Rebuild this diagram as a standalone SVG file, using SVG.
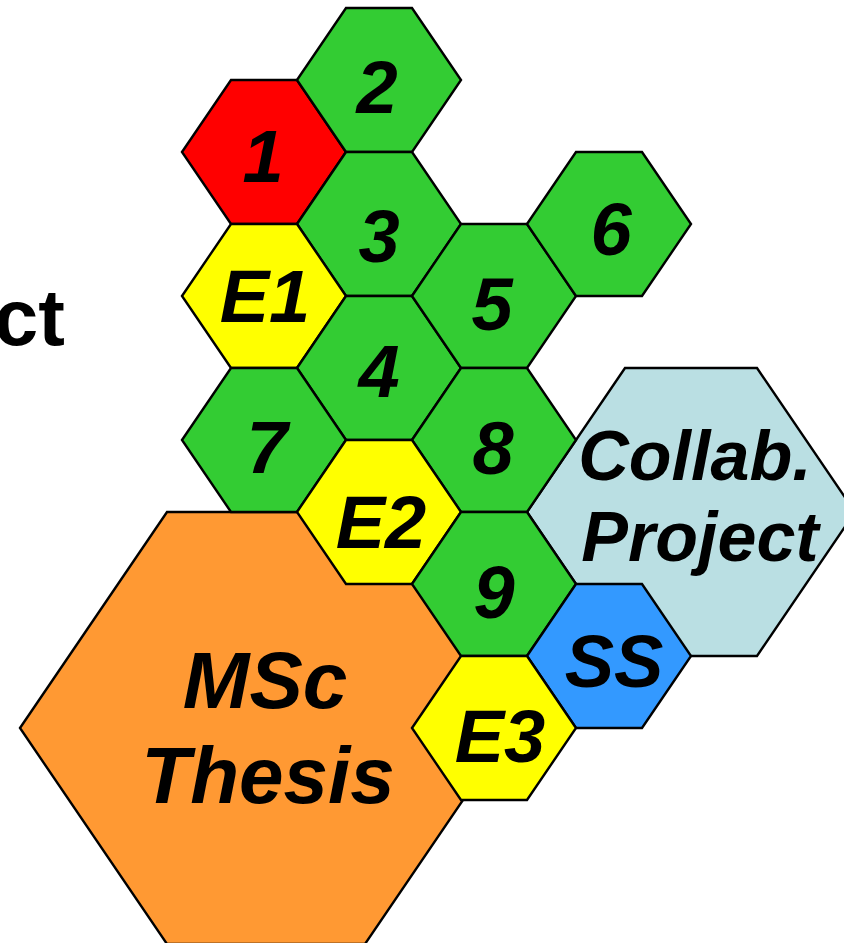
<svg xmlns="http://www.w3.org/2000/svg" width="844" height="943" viewBox="0 0 844 943">
<style>
.hex{stroke:#000;stroke-width:2.4;stroke-linejoin:miter}
.red{fill:#FF0000}.grn{fill:#33CC33}.yel{fill:#FFFF00}.org{fill:#FF9933}.lbl{fill:#BADFE3}.blu{fill:#3399FF}
.t{font-family:"Liberation Sans",Arial,sans-serif;font-weight:bold;font-style:italic;fill:#000;text-anchor:middle}
.s{font-size:74px}.m{font-size:80px}.c{font-size:70px}
.up{font-family:"Liberation Sans",Arial,sans-serif;font-weight:bold;font-size:80px;fill:#000}
</style>
<rect width="844" height="943" fill="#fff"/>
<text class="up" x="65" y="345" text-anchor="end">ct</text>
<g id="msc"><polygon class="hex org" points="20,728 167,512 365,512 512,728 365,944 167,944"/>
<text class="t m" x="265" y="708">MSc</text><text class="t m" x="268" y="803">Thesis</text></g>
<g id="collab"><polygon class="hex lbl" points="527,512 625,368 757,368 855,512 757,656 625,656"/>
<text class="t c" x="695" y="480">Collab.</text><text class="t c" x="700" y="561">Project</text></g>
<g id="n1"><polygon class="hex red" points="182,152 231,80 297,80 346,152 297,224 231,224"/><text class="t s" x="263" y="182">1</text></g>
<g id="n2"><polygon class="hex grn" points="297,80 346,8 412,8 461,80 412,152 346,152"/><text class="t s" x="377" y="113">2</text></g>
<g id="n3"><polygon class="hex grn" points="297,224 346,152 412,152 461,224 412,296 346,296"/><text class="t s" x="379" y="262">3</text></g>
<g id="nE1"><polygon class="hex yel" points="182,296 231,224 297,224 346,296 297,368 231,368"/><text class="t s" x="265" y="322">E1</text></g>
<g id="n4"><polygon class="hex grn" points="297,368 346,296 412,296 461,368 412,440 346,440"/><text class="t s" x="379" y="397">4</text></g>
<g id="n7"><polygon class="hex grn" points="182,440 231,368 297,368 346,440 297,512 231,512"/><text class="t s" x="267" y="473">7</text></g>
<g id="n5"><polygon class="hex grn" points="412,296 461,224 527,224 576,296 527,368 461,368"/><text class="t s" x="492" y="330">5</text></g>
<g id="n6"><polygon class="hex grn" points="527,224 576,152 642,152 691,224 642,296 576,296"/><text class="t s" x="611" y="255">6</text></g>
<g id="n8"><polygon class="hex grn" points="412,440 461,368 527,368 576,440 527,512 461,512"/><text class="t s" x="493" y="474">8</text></g>
<g id="nE2"><polygon class="hex yel" points="297,512 346,440 412,440 461,512 412,584 346,584"/><text class="t s" x="381" y="548">E2</text></g>
<g id="n9"><polygon class="hex grn" points="412,584 461,512 527,512 576,584 527,656 461,656"/><text class="t s" x="494" y="618">9</text></g>
<g id="nSS"><polygon class="hex blu" points="527,656 576,584 642,584 691,656 642,728 576,728"/><text class="t s" x="614" y="687">SS</text></g>
<g id="nE3"><polygon class="hex yel" points="412,728 461,656 527,656 576,728 527,800 461,800"/><text class="t s" x="500" y="762">E3</text></g>
<g id="connectors"></g>
</svg>
